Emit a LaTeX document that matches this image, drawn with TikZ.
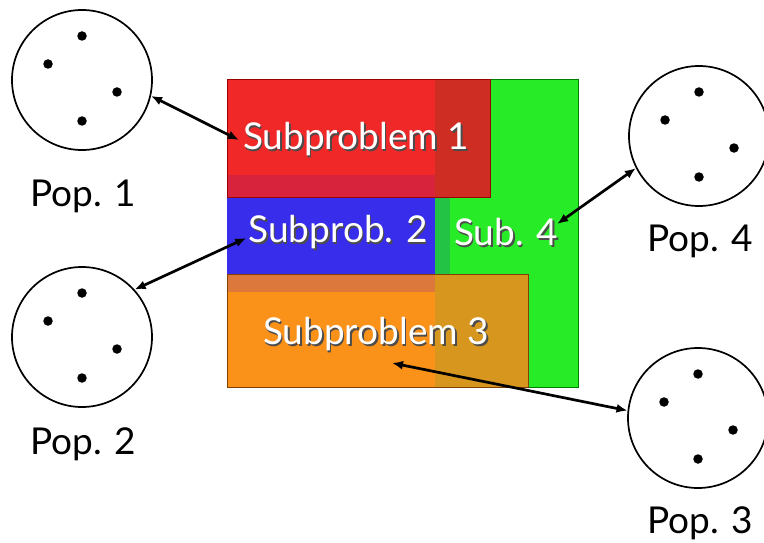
\documentclass[tikz,border=0pt]{standalone}
\usepackage{fontspec}
\setmainfont{Lato}
\usetikzlibrary{arrows.meta}
\definecolor{cG}{RGB}{40,235,40}
\definecolor{cR}{RGB}{240,40,40}
\definecolor{cRG}{RGB}{205,45,35}
\definecolor{cRB}{RGB}{215,35,60}
\definecolor{cB}{RGB}{55,45,235}
\definecolor{cBG}{RGB}{35,195,70}
\definecolor{cO}{RGB}{250,145,25}
\definecolor{cOB}{RGB}{220,120,60}
\definecolor{cOG}{RGB}{215,150,30}
\newcommand{\shadowtext}[1]{\makebox[0pt][l]{\kern1.6pt\raisebox{-1.6pt}{\color{black!70}#1}}#1}
\tikzset{
  popc/.style={circle,draw=black,line width=1.7pt,minimum size=140pt,inner sep=0pt},
  dot/.style={circle,fill=black,minimum size=9.5pt,inner sep=0pt},
  poplab/.style={anchor=base west,inner sep=0pt,font=\fontsize{37}{40}\selectfont},
  sublab/.style={text=white,inner sep=2pt,font=\fontsize{37}{40}\selectfont},
  link/.style={line width=2.7pt,{Latex[length=11pt,width=9pt]}-{Latex[length=11pt,width=9pt]}},
}
\begin{document}
\begin{tikzpicture}[x=1pt,y=-1pt]
\useasboundingbox (0,0) rectangle (764,543);
% rectangles
\fill[cG,draw=green!50!black,line width=0.6pt] (435,79) rectangle (578,387);
\fill[cB] (227,197) rectangle (435,274);
\fill[cBG] (435,197) rectangle (450,274);
\fill[cR] (227,79) rectangle (435,175);
\fill[cRB] (227,175) rectangle (435,197);
\fill[cRG] (435,79) rectangle (490,197);
\draw[red!60!black,line width=0.5pt] (227,79) rectangle (490,197);
\fill[cO] (227,292) rectangle (435,387);
\fill[cOB] (227,274) rectangle (435,292);
\fill[cOG] (435,274) rectangle (528,387);
\draw[orange!50!black,line width=0.5pt] (227,274) rectangle (528,387);
% labels on rectangles
\node[sublab] (s1) at (356,140) {\shadowtext{Subproblem 1}};
\node[sublab] (s2) at (338,233) {\shadowtext{Subprob. 2}};
\node[sublab] (s4) at (506,233) {\shadowtext{Sub. 4}};
\node[sublab] (s3) at (376,335) {\shadowtext{Subproblem 3}};
% populations
\node[popc] (pop1) at (82,80) {};
\node[popc] (pop2) at (82,337) {};
\node[popc] (pop4) at (699,136) {};
\node[popc] (pop3) at (698,418) {};
\foreach \p/\cx/\cy in {a/82/80,b/82/337,c/699/136,d/698/418}{
  \node[dot] (\p1) at (\cx,\cy-44) {};
  \node[dot] (\p2) at (\cx-34,\cy-16) {};
  \node[dot] (\p3) at (\cx+35,\cy+12) {};
  \node[dot] (\p4) at (\cx,\cy+41) {};
}
\node[poplab] (l1) at (30,206) {Pop. 1};
\node[poplab] (l2) at (30,454) {Pop. 2};
\node[poplab] (l4) at (647,251) {Pop. 4};
\node[poplab] (l3) at (647,533) {Pop. 3};
% connectors
\coordinate (a3) at (392,363);
\draw[link] (pop1.-13) -- ([xshift=-2pt]s1.west);
\draw[link] (pop2.42) -- ([yshift=-5pt]s2.west);
\draw[link] (pop4.207) -- ([yshift=9pt,xshift=-3pt]s4.east);
\draw[link] (a3) -- (pop3.174);
\end{tikzpicture}
\end{document}
